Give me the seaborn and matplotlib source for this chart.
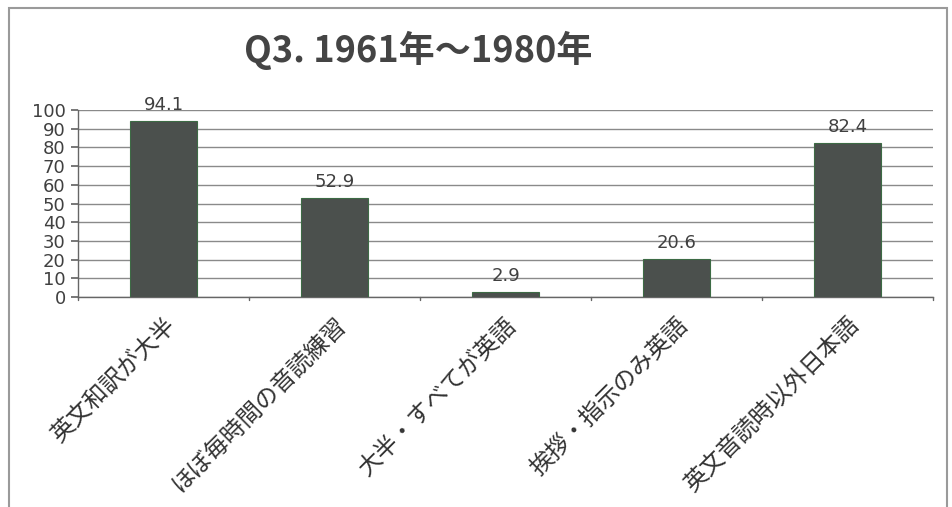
import matplotlib
matplotlib.use("Agg")
import matplotlib.pyplot as plt
import seaborn as sns
import pandas as pd

categories = ["英文和訳が大半", "ほぼ毎時間の音読練習", "大半・すべてが英語",
              "挨拶・指示のみ英語", "英文音読時以外日本語"]
values = [94.1, 52.9, 2.9, 20.6, 82.4]
yticks = list(range(0, 101, 10))
title = "Q3. 1961年～1980年"

sns.set_theme(style="white")
plt.rcParams["font.family"] = ["Noto Sans CJK JP", "DejaVu Sans"]

df = pd.DataFrame({"category": categories, "value": values})

fig = plt.figure(figsize=(9.53, 5.07), dpi=100)
fig.patch.set_facecolor("white")
ax = fig.add_axes([0.082, 0.414, 0.897, 0.369])

sns.barplot(data=df, x="category", y="value", color="#4b504d",
            width=0.39, edgecolor="#3d6b45", linewidth=0.8,
            saturation=1, ax=ax, zorder=3)

ax.set_ylim(0, 100)
ax.set_xlim(-0.5, len(categories) - 0.5)
ax.set_yticks(yticks)
ax.set_yticklabels([str(t) for t in yticks], fontsize=13, color="#404040",
                   family=["DejaVu Sans"])
ax.yaxis.grid(True, color="#8a8a8a", linewidth=1.0, zorder=0)
ax.set_axisbelow(True)

# category labels, tick marks between categories
ax.set_xticks(range(len(categories)))
ax.set_xticklabels(categories, rotation=45, ha="right", va="top",
                   rotation_mode="anchor", fontsize=17, color="#333333")
ax.tick_params(axis="x", length=0, pad=12)
for b in [i - 0.5 for i in range(len(categories) + 1)]:
    ax.plot([b, b], [0, -1.8], color="#666666", lw=1, clip_on=False)
ax.tick_params(axis="y", left=True, length=5, color="#666666", pad=4)

for s in ["top", "right"]:
    ax.spines[s].set_visible(False)
for s in ["left", "bottom"]:
    ax.spines[s].set_color("#666666")
    ax.spines[s].set_linewidth(1.0)

ax.set_xlabel("")
ax.set_ylabel("")

for i, v in enumerate(values):
    ax.annotate(f"{v:.1f}", (i, v), xytext=(0, 5), textcoords="offset points",
                ha="center", va="bottom", fontsize=13, color="#404040",
                family=["DejaVu Sans"])

fig.text(0.439, 0.9, title, ha="center", va="center", fontsize=26,
         fontweight="bold", color="#444444")

# outer chart frame
frame = plt.Rectangle((0.009, -0.02), 0.985, 1.004, transform=fig.transFigure,
                      fill=False, edgecolor="#9a9a9a", linewidth=1.5)
fig.add_artist(frame)

fig.savefig("out.png", dpi=100)
